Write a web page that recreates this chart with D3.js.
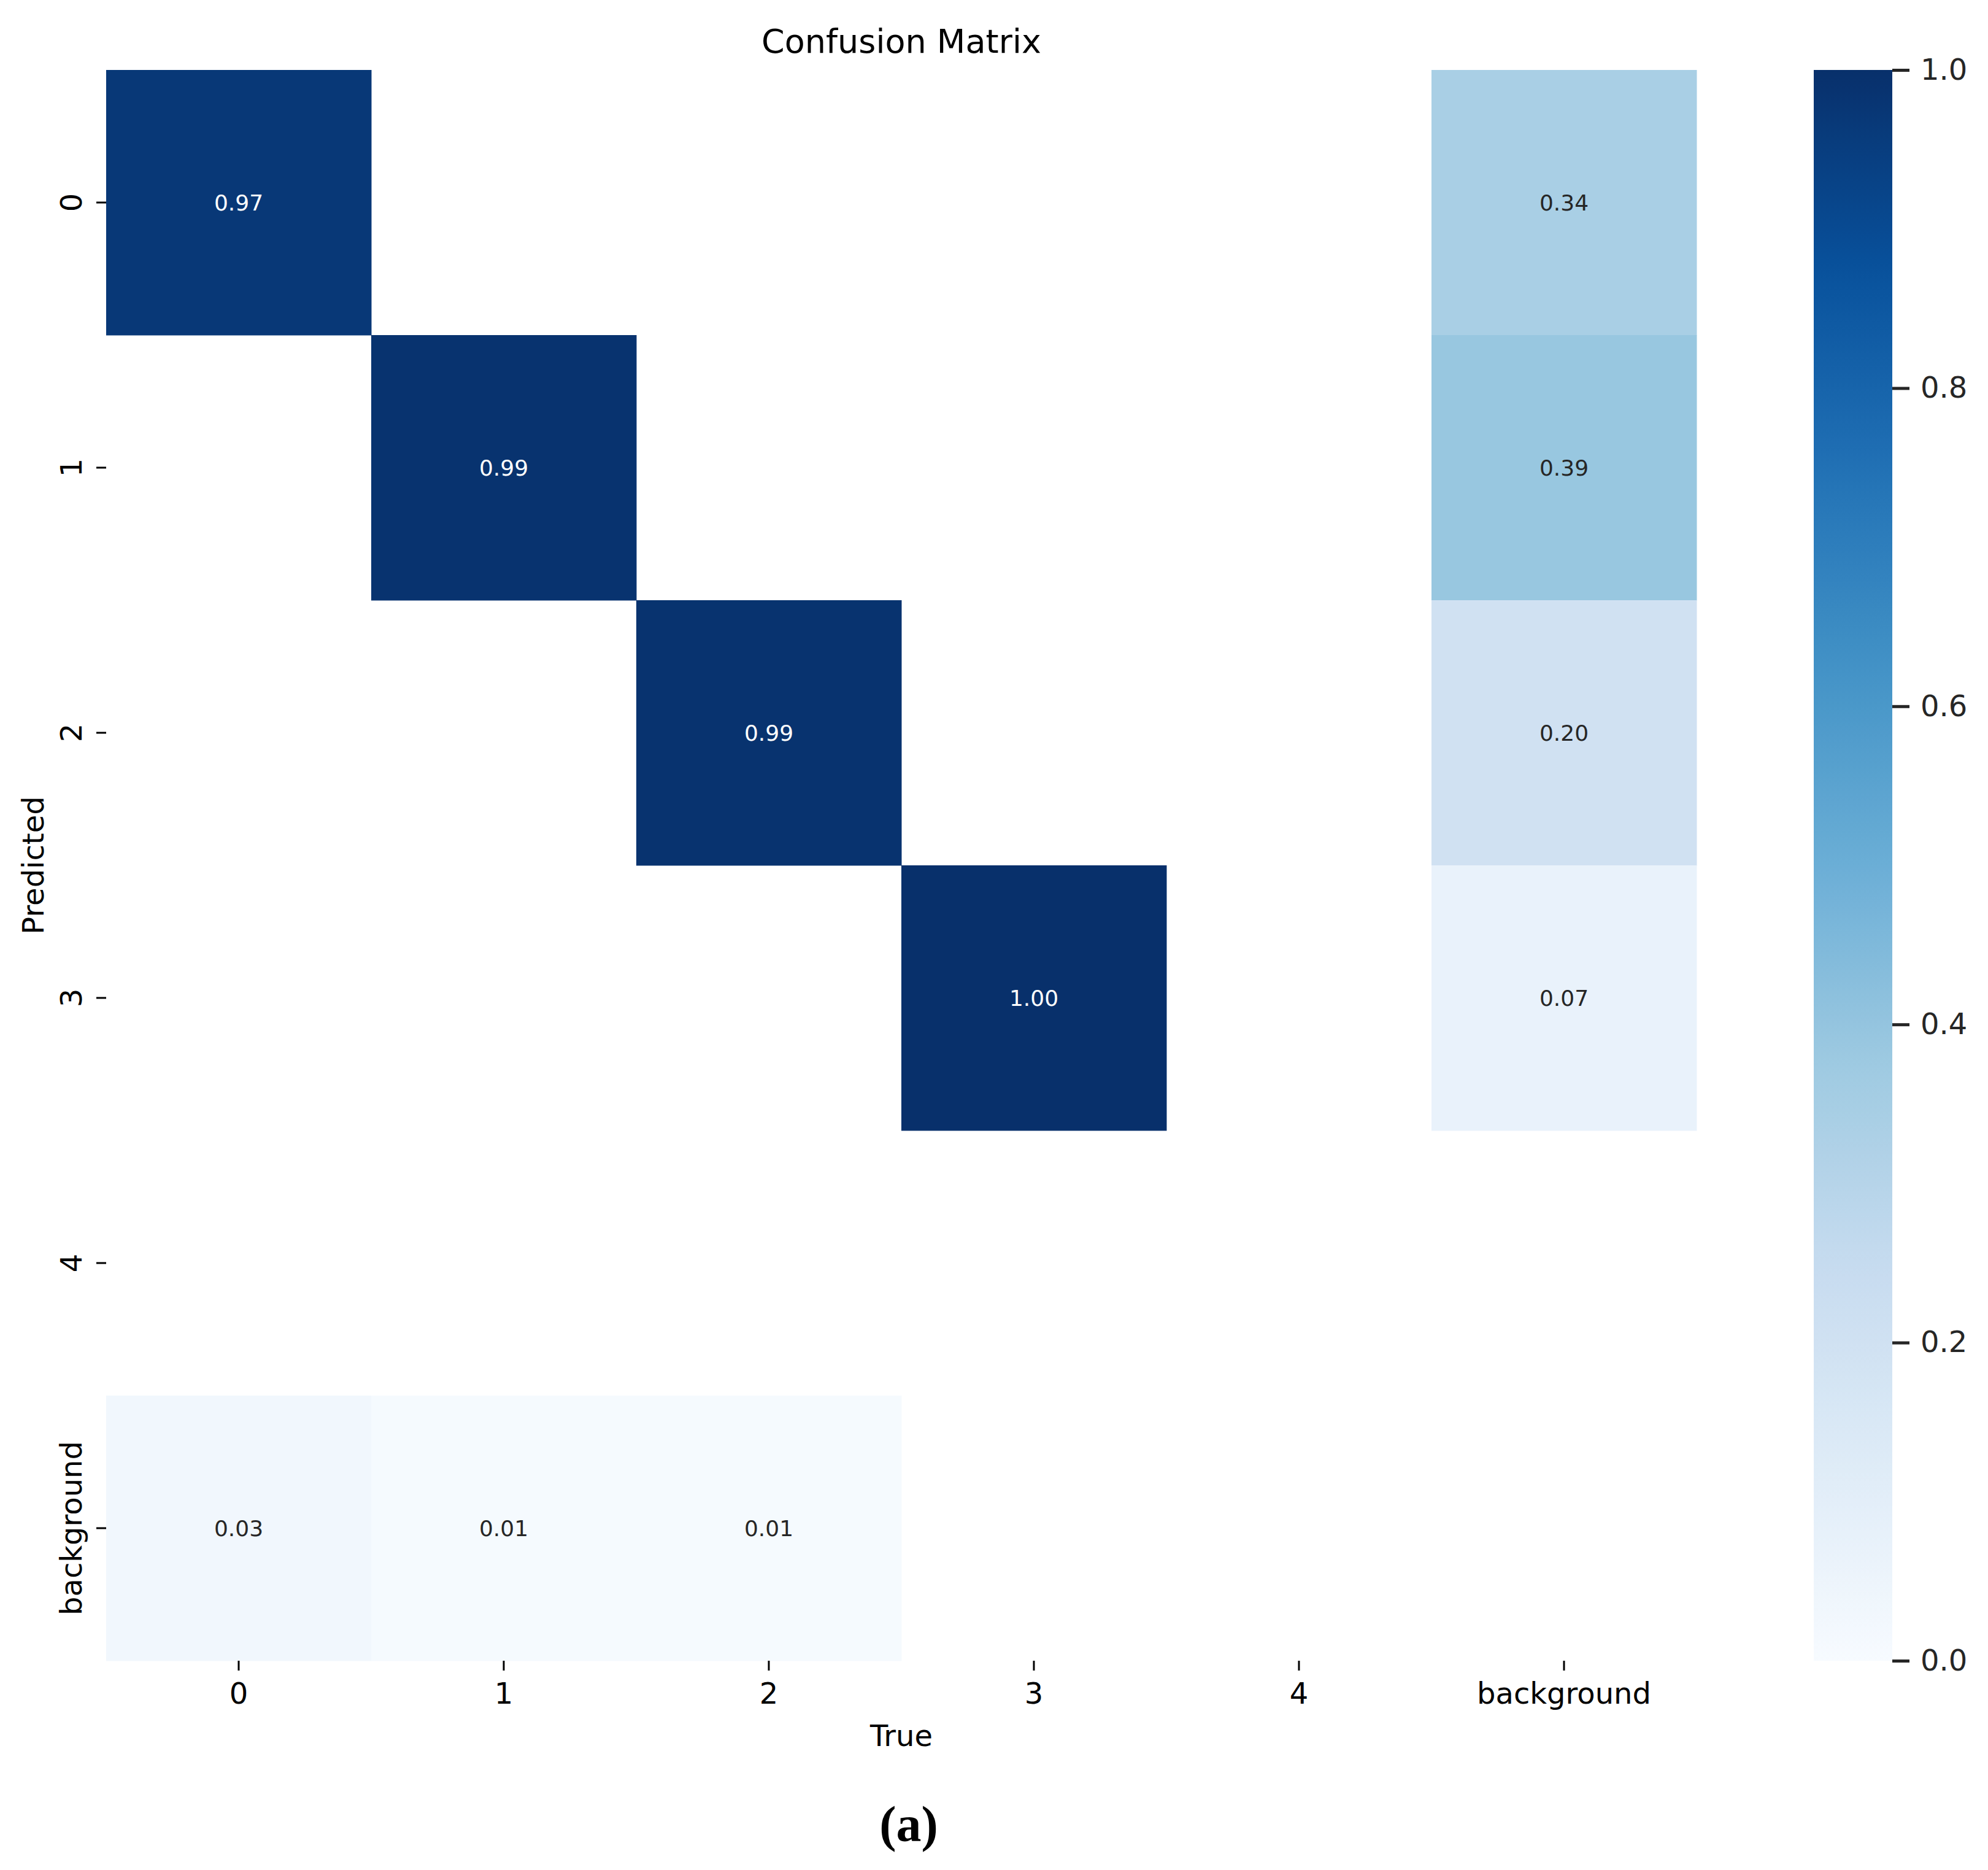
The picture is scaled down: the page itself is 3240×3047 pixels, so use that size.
<!DOCTYPE html>
<html>
<head>
<meta charset="utf-8">
<script src="https://cdn.jsdelivr.net/npm/d3@7"></script>
<style>
  html, body { margin: 0; padding: 0; background: #fff; }
</style>
</head>
<body>
<div id="chart"></div>
<script>
// categories (rows = predicted, columns = true)
var trueLabels = ["0", "1", "2", "3", "4", "background"];
var predLabels = ["0", "1", "2", "3", "4", "background"];

// normalised confusion matrix, null = empty cell
var row0 = [0.97, null, null, null, null, 0.34];
var row1 = [null, 0.99, null, null, null, 0.39];
var row2 = [null, null, 0.99, null, null, 0.20];
var row3 = [null, null, null, 1.00, null, 0.07];
var row4 = [null, null, null, null, null, null];
var rowBg = [0.03, 0.01, 0.01, null, null, null];
var matrix = [row0, row1, row2, row3, row4, rowBg];

var colorbarTicks = [0.0, 0.2, 0.4, 0.6, 0.8, 1.0];

var width = 3240;
var height = 3047;

var plotLeft = 173, plotTop = 114, side = 2592;
var cbLeft = 2956, cbWidth = 128;
var sans = "DejaVu Sans, sans-serif";

var svg = d3.select("#chart").append("svg")
  .attr("width", width)
  .attr("height", height)
  .attr("viewBox", "0 0 " + width + " " + height)
  .style("font-family", sans);

var x = d3.scaleBand().domain(trueLabels).range([plotLeft, plotLeft + side]);
var y = d3.scaleBand().domain(predLabels).range([plotTop, plotTop + side]);

// matplotlib "Blues": piecewise linear through the 9 brewer colours
var blues = d3.scaleLinear()
  .domain(d3.range(9).map(function (i) { return i / 8; }))
  .range(d3.schemeBlues[9])
  .interpolate(d3.interpolateRgb)
  .clamp(true);

var cells = [];
matrix.forEach(function (row, i) {
  row.forEach(function (v, j) {
    if (v !== null) cells.push({ r: predLabels[i], c: trueLabels[j], v: v });
  });
});

svg.append("g").selectAll("rect")
  .data(cells)
  .enter().append("rect")
  .attr("x", function (d) { return x(d.c); })
  .attr("y", function (d) { return y(d.r); })
  .attr("width", x.bandwidth() + 0.5)
  .attr("height", y.bandwidth() + 0.5)
  .attr("fill", function (d) { return blues(d.v); });

function isDark(v) {
  var c = d3.rgb(blues(v));
  var lum = 0.2126 * c.r / 255 + 0.7152 * c.g / 255 + 0.0722 * c.b / 255;
  return lum < 0.408;
}

svg.append("g").selectAll("text")
  .data(cells)
  .enter().append("text")
  .attr("x", function (d) { return x(d.c) + x.bandwidth() / 2; })
  .attr("y", function (d) { return y(d.r) + y.bandwidth() / 2 + 13; })
  .attr("text-anchor", "middle")
  .attr("font-size", 36)
  .attr("fill", function (d) { return isDark(d.v) ? "#ffffff" : "#262626"; })
  .text(function (d) { return d.v.toFixed(2); });

// x axis
var xAxis = svg.append("g")
  .attr("transform", "translate(0," + (plotTop + side) + ")")
  .call(d3.axisBottom(x).tickSize(16).tickPadding(0));
xAxis.select(".domain").remove();
xAxis.selectAll(".tick line").attr("stroke", "#000").attr("stroke-width", 3);
xAxis.selectAll(".tick text")
  .attr("font-size", 48)
  .attr("fill", "#000")
  .attr("font-family", sans)
  .attr("dy", null)
  .attr("y", 70);

// y axis
var yAxis = svg.append("g")
  .attr("transform", "translate(" + plotLeft + ",0)")
  .call(d3.axisLeft(y).tickSize(16).tickPadding(0));
yAxis.select(".domain").remove();
yAxis.selectAll(".tick line").attr("stroke", "#000").attr("stroke-width", 3);
yAxis.selectAll(".tick text")
  .attr("font-size", 48)
  .attr("fill", "#000")
  .attr("font-family", sans)
  .attr("x", null).attr("dy", null)
  .attr("text-anchor", "middle")
  .attr("transform", "translate(-40,0) rotate(-90)");

// titles
svg.append("text")
  .attr("x", plotLeft + side / 2)
  .attr("y", 86)
  .attr("text-anchor", "middle")
  .attr("font-size", 54)
  .attr("fill", "#000")
  .text("Confusion Matrix");

svg.append("text")
  .attr("x", plotLeft + side / 2)
  .attr("y", 2845)
  .attr("text-anchor", "middle")
  .attr("font-size", 48)
  .attr("fill", "#000")
  .text("True");

svg.append("text")
  .attr("transform", "translate(71," + (plotTop + side / 2) + ") rotate(-90)")
  .attr("text-anchor", "middle")
  .attr("font-size", 48)
  .attr("fill", "#000")
  .text("Predicted");

// colour bar
var cbScale = d3.scaleLinear().domain([0, 1]).range([plotTop + side, plotTop]);

var grad = svg.append("defs").append("linearGradient")
  .attr("id", "cbGrad")
  .attr("x1", 0).attr("y1", 1).attr("x2", 0).attr("y2", 0);
grad.selectAll("stop")
  .data(d3.range(0, 1.0001, 0.02))
  .enter().append("stop")
  .attr("offset", function (d) { return d; })
  .attr("stop-color", function (d) { return blues(d); });

svg.append("rect")
  .attr("x", cbLeft)
  .attr("y", cbScale(1))
  .attr("width", cbWidth)
  .attr("height", cbScale(0) - cbScale(1))
  .attr("fill", "url(#cbGrad)");

var cbAxis = svg.append("g")
  .attr("transform", "translate(" + (cbLeft + cbWidth) + ",0)")
  .call(d3.axisRight(cbScale).tickValues(colorbarTicks).tickFormat(d3.format(".1f")).tickSize(28).tickPadding(18));
cbAxis.select(".domain").remove();
cbAxis.selectAll(".tick line").attr("stroke", "#262626").attr("stroke-width", 5);
cbAxis.selectAll(".tick text")
  .attr("font-size", 48)
  .attr("fill", "#262626")
  .attr("font-family", sans);

// panel label
svg.append("text")
  .attr("x", 1481)
  .attr("y", 3000)
  .attr("text-anchor", "middle")
  .attr("font-size", 82)
  .attr("font-weight", "bold")
  .style("font-family", "'Liberation Serif', serif")
  .attr("fill", "#000")
  .text("(a)");
</script>
</body>
</html>
